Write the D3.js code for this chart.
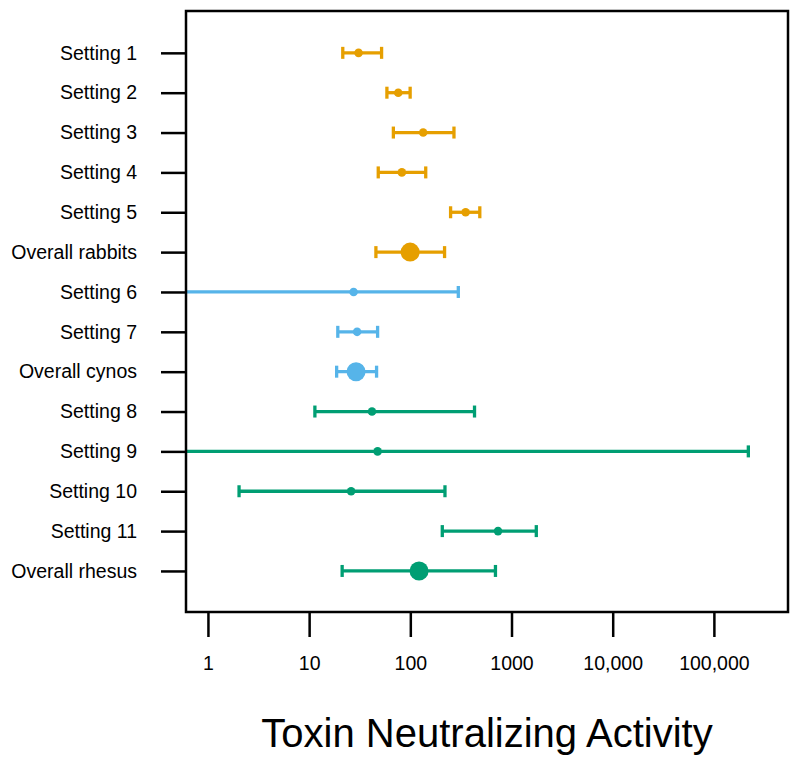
<!DOCTYPE html>
<html>
<head>
<meta charset="utf-8">
<script src="https://cdn.jsdelivr.net/npm/d3@7"></script>
<style>
  body { margin: 0; background: #fff; }
  text { font-family: "Liberation Sans", Arial, sans-serif; fill: #000; }
</style>
</head>
<body>
<svg></svg>
<script>
// row labels, top to bottom
let labels = ["Setting 1", "Setting 2", "Setting 3", "Setting 4", "Setting 5", "Overall rabbits",
  "Setting 6", "Setting 7", "Overall cynos",
  "Setting 8", "Setting 9", "Setting 10", "Setting 11", "Overall rhesus"]

// point estimates and interval bounds
let estimates = [30.8, 76, 134, 82.5, 352, 99.6, 27.5, 29.8, 29.1, 41.8, 47.5, 26, 736, 122]
let lower     = [21.5, 58.7, 68, 48.2, 250, 45.7, 0.3, 19.2, 18.7, 11.4, 0.3, 2.03, 207, 21.2]
let upper     = [52, 99.6, 270, 142, 486, 218, 298, 47.5, 46.4, 431, 219000, 220, 1758, 694]

// species group for each row: 0 rabbits, 1 cynos, 2 rhesus
let groups = [0, 0, 0, 0, 0, 0, 1, 1, 1, 2, 2, 2, 2, 2]
let isOverall = [false, false, false, false, false, true, false, false, true, false, false, false, false, true]

let tickValues = [1, 10, 100, 1000, 10000, 100000]
let tickLabels = ["1", "10", "100", "1000", "10,000", "100,000"]

let colors = ["#E69F00", "#56B4E9", "#009E73"]

let width = 800
let height = 766
let plotLeft = 186
let plotRight = 788
let plotTop = 11
let plotBottom = 612

let svg = d3.select("svg")
  .attr("width", width)
  .attr("height", height)

let xScale = d3.scaleLog()
  .domain([0.607, 540000])
  .range([plotLeft, plotRight])

let yScale = d3.scaleLinear()
  .domain([-1.05, 14.03])
  .range([plotTop, plotBottom])

svg.append("clipPath")
  .attr("id", "plot-clip")
  .append("rect")
  .attr("x", plotLeft)
  .attr("y", plotTop)
  .attr("width", plotRight - plotLeft)
  .attr("height", plotBottom - plotTop)

let rows = labels.map((d, i) => ({
  label: d, est: estimates[i], lo: lower[i], hi: upper[i],
  color: colors[groups[i]], overall: isOverall[i], idx: i
}))

let marks = svg.append("g").attr("clip-path", "url(#plot-clip)")

// interval lines
marks.selectAll(".ci")
  .data(rows)
  .enter()
  .append("line")
  .attr("class", "ci")
  .attr("x1", d => xScale(d.lo))
  .attr("x2", d => xScale(d.hi))
  .attr("y1", d => yScale(d.idx))
  .attr("y2", d => yScale(d.idx))
  .attr("stroke", d => d.color)
  .attr("stroke-width", 3.3)

// end caps
let caps = []
rows.forEach(d => {
  caps.push({ v: d.lo, row: d })
  caps.push({ v: d.hi, row: d })
})

marks.selectAll(".cap")
  .data(caps)
  .enter()
  .append("line")
  .attr("class", "cap")
  .attr("x1", d => xScale(d.v))
  .attr("x2", d => xScale(d.v))
  .attr("y1", d => yScale(d.row.idx) - 6)
  .attr("y2", d => yScale(d.row.idx) + 6)
  .attr("stroke", d => d.row.color)
  .attr("stroke-width", 3.3)

// point estimates
marks.selectAll(".pt")
  .data(rows)
  .enter()
  .append("circle")
  .attr("class", "pt")
  .attr("cx", d => xScale(d.est))
  .attr("cy", d => yScale(d.idx))
  .attr("r", d => d.overall ? 9.5 : 4.3)
  .attr("fill", d => d.color)

// axes
let xAxis = d3.axisBottom(xScale)
  .tickValues(tickValues)
  .tickFormat((d, i) => tickLabels[i])
  .tickSize(25)
  .tickPadding(19)

let yAxis = d3.axisLeft(yScale)
  .tickValues(d3.range(labels.length))
  .tickFormat(i => labels[i])
  .tickSize(25)
  .tickPadding(24)

let gx = svg.append("g")
  .attr("transform", "translate(0," + plotBottom + ")")
  .call(xAxis)

let gy = svg.append("g")
  .attr("transform", "translate(" + plotLeft + ",0)")
  .call(yAxis)

gx.select(".domain").remove()
gy.select(".domain").remove()

svg.selectAll(".tick line")
  .attr("stroke", "#000")
  .attr("stroke-width", 2.5)

svg.selectAll(".tick text")
  .style("font-size", "19.5px")
  .style("font-family", "'Liberation Sans', Arial, sans-serif")

// box around the plot
svg.append("rect")
  .attr("x", plotLeft)
  .attr("y", plotTop)
  .attr("width", plotRight - plotLeft)
  .attr("height", plotBottom - plotTop)
  .attr("fill", "none")
  .attr("stroke", "#000")
  .attr("stroke-width", 2.5)

svg.append("text")
  .attr("x", (plotLeft + plotRight) / 2)
  .attr("y", 747)
  .attr("text-anchor", "middle")
  .style("font-size", "40px")
  .text("Toxin Neutralizing Activity")
</script>
</body>
</html>
